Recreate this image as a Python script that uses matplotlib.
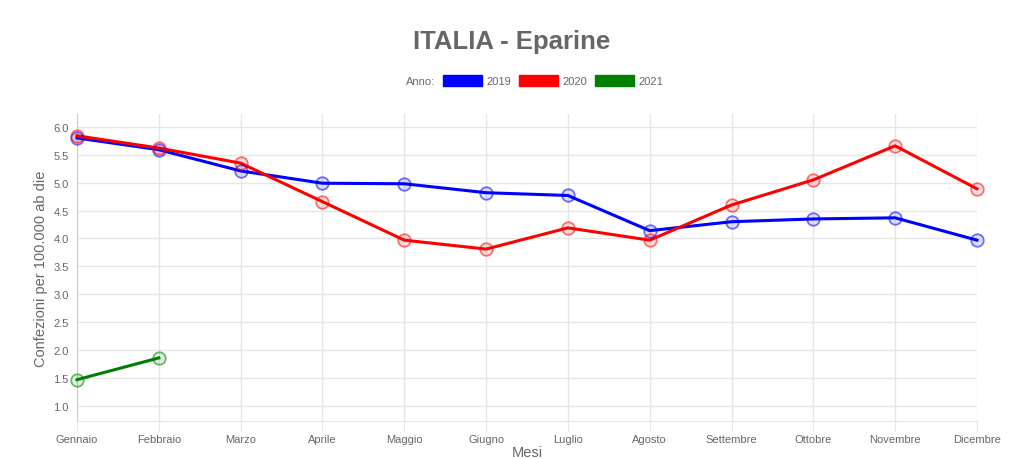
import matplotlib
matplotlib.use("Agg")
import matplotlib.pyplot as plt
from matplotlib.colors import to_rgba
from matplotlib.patches import Patch

plt.rcParams['font.family'] = ['Liberation Sans', 'DejaVu Sans']

mesi = ["Gennaio", "Febbraio", "Marzo", "Aprile", "Maggio", "Giugno", "Luglio",
        "Agosto", "Settembre", "Ottobre", "Novembre", "Dicembre"]
v2019 = [5.80, 5.59, 5.21, 4.99, 4.98, 4.82, 4.77, 4.14, 4.30, 4.35, 4.37, 3.97]
v2020 = [5.84, 5.62, 5.35, 4.66, 3.97, 3.81, 4.19, 3.97, 4.60, 5.05, 5.66, 4.89]
v2021 = [1.47, 1.86]
anni = ["2019", "2020", "2021"]
colori = ["#0000ff", "#ff0000", "#008000"]
yticks = [1.0, 1.5, 2.0, 2.5, 3.0, 3.5, 4.0, 4.5, 5.0, 5.5, 6.0]

fig = plt.figure(figsize=(10.24, 4.6), dpi=100)
ax = fig.add_axes([0.0752, 0.0826, 0.8789, 0.6674])

for vals, c in zip([v2019, v2020, v2021], colori):
    x = list(range(len(vals)))
    ax.plot(x, vals, color=c, lw=2.2, zorder=3, clip_on=False)
    ax.plot(x, vals, ls='none', marker='o', ms=9, mec=to_rgba(c, 0.55), mew=1.3,
            mfc=to_rgba(c, 0.12), zorder=4, clip_on=False)

ax.set_xlim(0, 11)
ax.set_ylim(0.73, 6.23)
ax.set_xticks(range(12))
ax.set_xticklabels(mesi)
ax.set_yticks(yticks)
ax.set_yticklabels([f"{t:.1f}" for t in yticks])
ax.grid(True, color='#e6e6e6', lw=1)
ax.set_axisbelow(True)
for s in ['top', 'right']:
    ax.spines[s].set_visible(False)
ax.spines['left'].set_color('#cccccc')
ax.spines['bottom'].set_color('#e6e6e6')
ax.tick_params(axis='both', colors='#e6e6e6', labelcolor='#666666', labelsize=8, length=7)
ax.tick_params(axis='x', pad=2)
ax.tick_params(axis='y', length=0, pad=6)

ax.set_ylabel("Confezioni per 100.000 ab die", color='#666666', fontsize=10.5, labelpad=4)
ax.set_xlabel("Mesi", color='#666666', fontsize=10.5, labelpad=1)

fig.text(0.5, 0.908, "ITALIA - Eparine", ha='center', va='center', fontsize=18.5,
         fontweight='bold', color='#666666')

handles = [Patch(facecolor=c, edgecolor=c) for c in colori]
fig.text(0.425, 0.822, "Anno:", ha='right', va='center', fontsize=8, color='#666666')
leg = fig.legend(handles, anni, loc='center', bbox_to_anchor=(0.540, 0.822), ncol=3,
                 frameon=False, handlelength=3.5, handleheight=1.1, handletextpad=0.4,
                 columnspacing=0.7, fontsize=8)
for t in leg.get_texts():
    t.set_color('#666666')

fig.savefig("out.png", dpi=100)
